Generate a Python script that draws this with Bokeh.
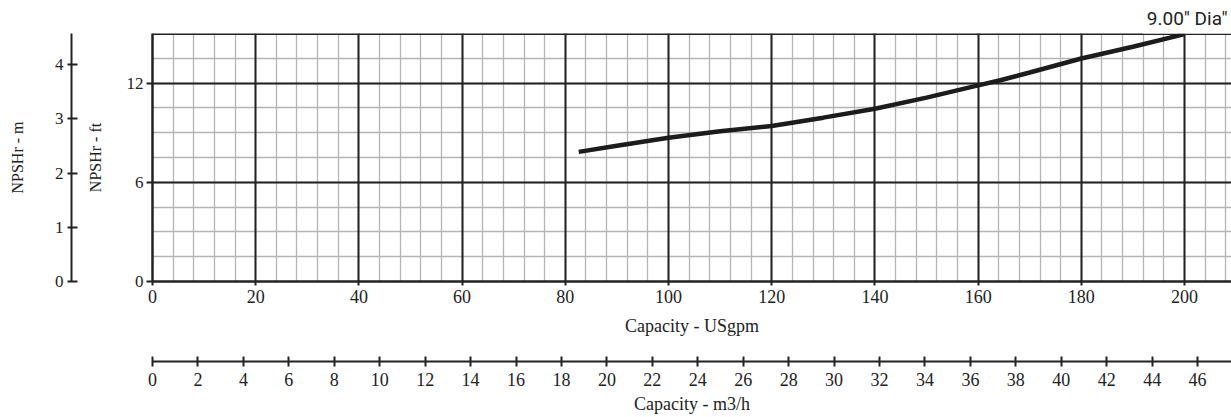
from bokeh.plotting import figure
from bokeh.models import LinearAxis, Range1d, FixedTicker, Span, Title, Grid
from bokeh.embed import file_html
from bokeh.resources import INLINE

# ---- data ----
flow_gpm = [82.6, 90, 100, 110, 120, 130, 140, 150, 160, 164.3, 170, 180, 190, 200]
npshr_ft = [7.84, 8.21, 8.70, 9.09, 9.41, 9.91, 10.45, 11.12, 11.86, 12.17, 12.64, 13.49, 14.2, 14.96]

x_major = [0, 20, 40, 60, 80, 100, 120, 140, 160, 180, 200]
x_minor = list(range(0, 212, 4))
y_major_ft = [0, 6, 12]
y_minor_ft = [0, 1.5, 3, 4.5, 6, 7.5, 9, 10.5, 12, 13.5, 15]
m_ticks = [0, 1, 2, 3, 4]
m3h_ticks = list(range(0, 48, 2))
curve_label = '9.00" Dia"'

GPM_PER_M3H = 4.40287
M_PER_FT = 0.3048
X_END = 209.1
Y_END = 15

INK = "#222222"
MINOR = "#b4b4b4"
SERIF = "Liberation Serif"

p = figure(width=1231, height=417, x_range=Range1d(0, X_END), y_range=Range1d(0, Y_END),
           output_backend="svg", toolbar_location=None,
           min_border_left=152, min_border_right=0, min_border_top=32, min_border_bottom=136)
p.extra_y_ranges = {"m": Range1d(0, Y_END * M_PER_FT)}
p.extra_x_ranges = {"m3h": Range1d(0, X_END / GPM_PER_M3H)}
p.outline_line_color = None
p.background_fill_color = "white"
p.border_fill_color = "white"

# grids: minor first, then major
p.center = [
    Grid(dimension=0, ticker=FixedTicker(ticks=x_minor), grid_line_color=MINOR, grid_line_width=1.3),
    Grid(dimension=1, ticker=FixedTicker(ticks=y_minor_ft), grid_line_color=MINOR, grid_line_width=1.3),
    Grid(dimension=0, ticker=FixedTicker(ticks=x_major), grid_line_color=INK, grid_line_width=2),
    Grid(dimension=1, ticker=FixedTicker(ticks=y_major_ft), grid_line_color=INK, grid_line_width=2),
]


def style_axis(ax, tick_size, label_size):
    ax.axis_line_color = INK
    ax.major_tick_line_color = INK
    ax.major_tick_line_width = 2
    ax.minor_tick_line_color = None
    ax.major_label_text_font = SERIF
    ax.major_label_text_font_size = tick_size
    ax.major_label_text_color = INK
    ax.axis_label_text_font = SERIF
    ax.axis_label_text_font_size = label_size
    ax.axis_label_text_font_style = "normal"
    ax.axis_label_text_color = INK


def spacer(size, **kw):
    return LinearAxis(ticker=FixedTicker(ticks=[0]), axis_line_color=None,
                      major_tick_line_color=None, minor_tick_line_color=None,
                      major_label_text_color=None, major_label_text_font_size="1px",
                      major_tick_in=0, major_tick_out=size, major_label_standoff=0, **kw)


# bottom: USgpm
xa = p.xaxis[0]
xa.ticker = FixedTicker(ticks=x_major)
style_axis(xa, "18px", "18px")
xa.axis_label = "Capacity - USgpm"
xa.axis_line_width = 2.5
xa.major_tick_in = 0
xa.major_tick_out = 4
xa.major_label_standoff = 4
xa.axis_label_standoff = 10

p.add_layout(spacer(23), "below")

ma = LinearAxis(x_range_name="m3h", ticker=FixedTicker(ticks=m3h_ticks), axis_label="Capacity - m3/h")
style_axis(ma, "18px", "18px")
ma.axis_line_width = 2
ma.major_tick_in = 5
ma.major_tick_out = 5
ma.major_label_standoff = 6
ma.axis_label_standoff = 5
p.add_layout(ma, "below")

# left: ft
ya = p.yaxis[0]
ya.ticker = FixedTicker(ticks=y_major_ft)
style_axis(ya, "17px", "16px")
ya.axis_label = "NPSHr - ft"
ya.axis_line_width = 2.5
ya.major_tick_in = 0
ya.major_tick_out = 6
ya.major_label_standoff = 3
ya.axis_label_standoff = 20

p.add_layout(spacer(12), "left")

mya = LinearAxis(y_range_name="m", ticker=FixedTicker(ticks=m_ticks), axis_label="NPSHr - m")
style_axis(mya, "17px", "16px")
mya.axis_line_width = 2
mya.major_tick_in = 6
mya.major_tick_out = 4
mya.major_label_standoff = 4
mya.axis_label_standoff = 26
p.add_layout(mya, "left")

# top border + curve
p.add_layout(Span(location=Y_END, dimension="width", line_color=INK, line_width=3, level="underlay"))
p.line(flow_gpm, npshr_ft, line_width=4.5, line_color="#1c1c1c")

ttl = Title(text=curve_label, align="right", text_font="Roboto", text_font_size="19px",
            text_font_style="normal", text_color=INK, standoff=0,
            background_fill_color="white", padding=4)
p.add_layout(ttl, "above")

open("out.html", "w").write(file_html(p, INLINE))
